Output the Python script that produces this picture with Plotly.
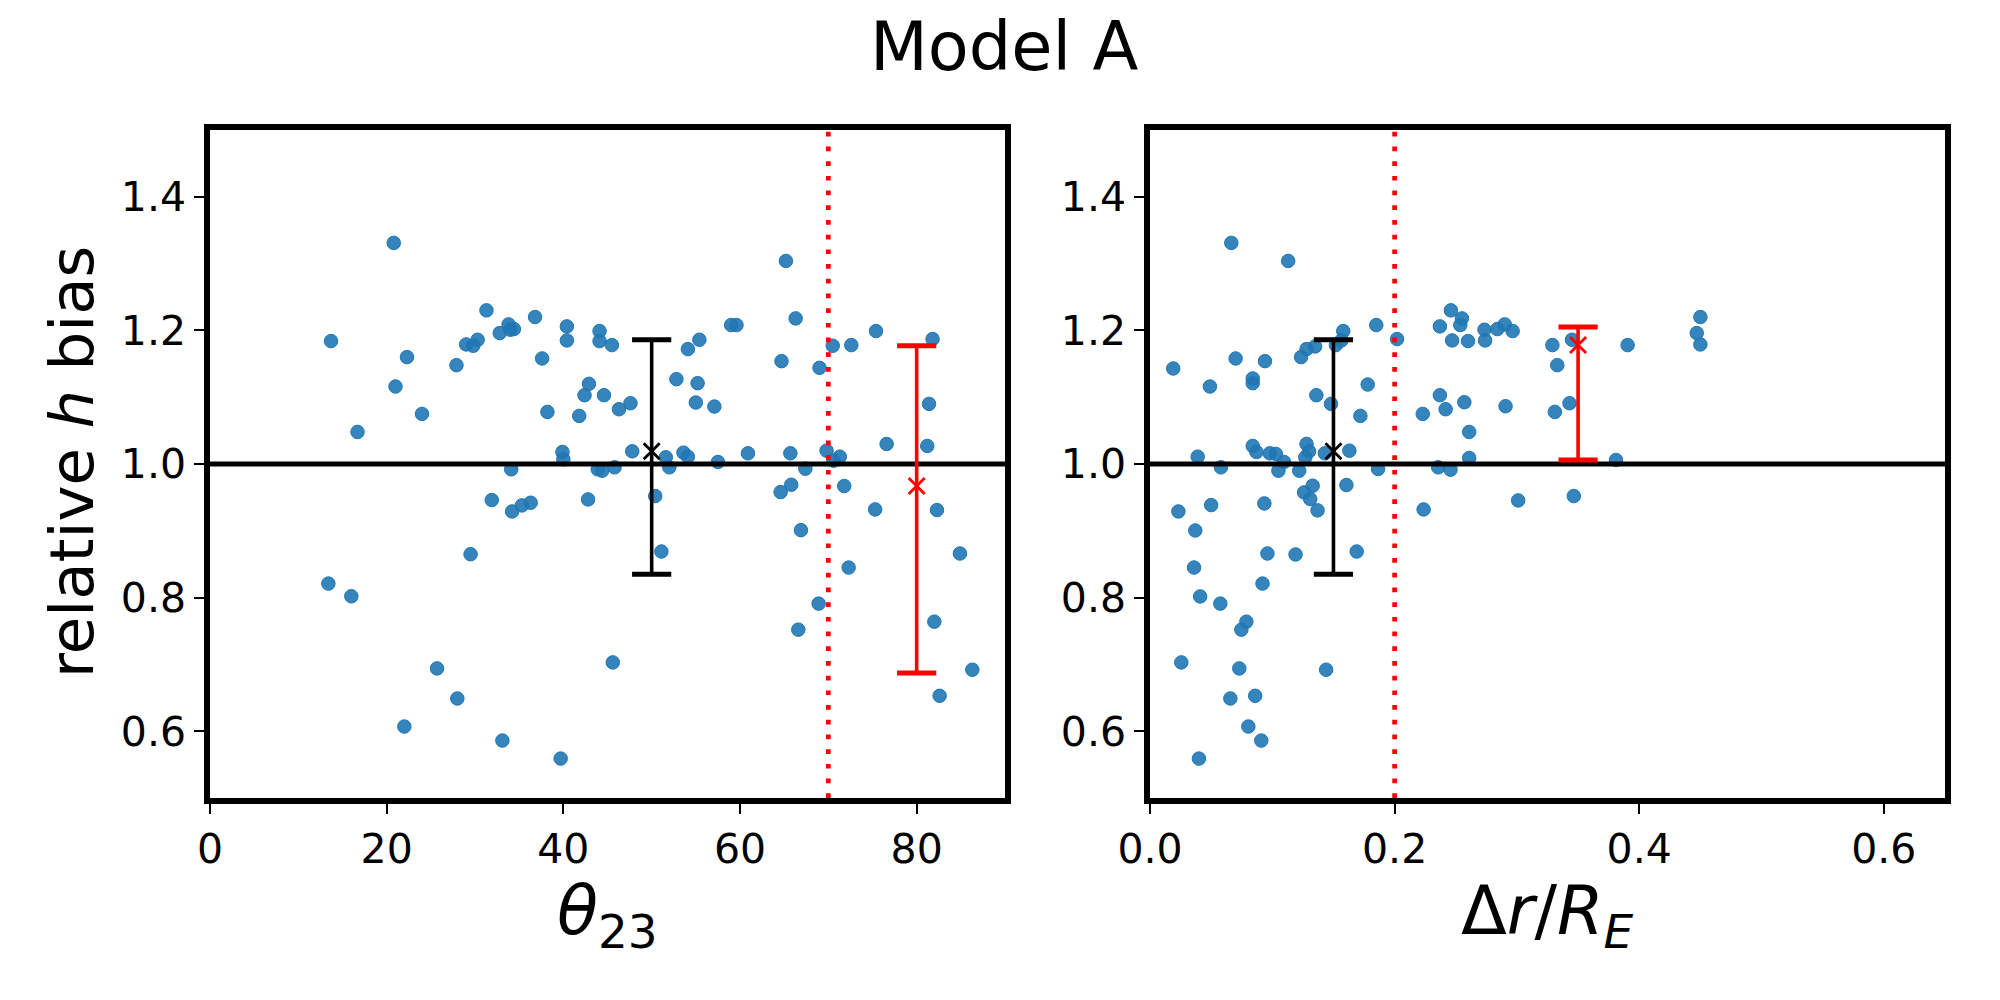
import plotly.graph_objects as go

# ---------------- data ----------------
theta23 = [20.8, 13.7, 22.3, 21.0, 24.0, 16.7, 27.9, 29.0, 29.8, 30.3, 31.3, 32.8, 33.8, 34.0, 34.4,
           36.8, 37.6, 38.2, 40.4, 40.4, 44.1, 44.1, 45.5, 42.9, 42.4, 44.6, 41.8, 46.3, 39.9, 40.0,
           47.6, 47.8, 51.6, 53.6, 54.1, 54.1, 55.4, 52.8, 55.2, 55.0, 57.1, 57.5, 59.0, 59.6, 60.9,
           65.2, 66.3, 64.7, 69.0, 65.7, 69.8, 70.5, 72.6, 75.4, 71.3, 70.6, 76.6, 81.8, 81.4, 81.2,
           34.1, 43.9, 44.4, 45.8, 31.9, 34.2, 35.3, 36.3, 42.8, 29.5, 13.4, 16.0, 45.6, 25.7, 28.0,
           22.0, 33.1, 39.7, 52.0, 50.4, 51.1, 67.4, 65.8, 64.6, 71.8, 66.9, 72.3, 68.9, 66.6, 75.3,
           82.3, 84.9, 82.0, 86.3, 82.6]
bias_theta = [1.331, 1.184, 1.160, 1.116, 1.075, 1.048, 1.148, 1.179, 1.177, 1.186, 1.230, 1.196, 1.209, 1.201, 1.202,
              1.220, 1.158, 1.078, 1.206, 1.185, 1.199, 1.184, 1.178, 1.120, 1.103, 1.103, 1.072, 1.082, 1.018, 1.007,
              1.091, 1.019, 1.010, 1.017, 1.011, 1.172, 1.186, 1.127, 1.121, 1.092, 1.086, 1.003, 1.208, 1.208, 1.016,
              1.304, 1.218, 1.154, 1.144, 1.016, 1.020, 1.177, 1.178, 1.199, 1.011, 1.005, 1.030, 1.187, 1.090, 1.027,
              0.992, 0.992, 0.990, 0.995, 0.946, 0.929, 0.938, 0.942, 0.947, 0.865, 0.821, 0.802, 0.703, 0.694, 0.649,
              0.607, 0.586, 0.559, 0.995, 0.952, 0.869, 0.993, 0.969, 0.958, 0.967, 0.901, 0.845, 0.791, 0.752, 0.932,
              0.931, 0.866, 0.764, 0.692, 0.653]

dr_re = [0.0665, 0.113, 0.019, 0.070, 0.094, 0.049, 0.084, 0.084, 0.1235, 0.128, 0.135, 0.152, 0.1565, 0.158, 0.185,
         0.202, 0.136, 0.148, 0.178, 0.172, 0.039, 0.084, 0.087, 0.098, 0.103, 0.1096, 0.128, 0.130, 0.127, 0.143,
         0.163, 0.237, 0.246, 0.255, 0.2537, 0.247, 0.260, 0.2735, 0.274, 0.284, 0.290, 0.2965, 0.329, 0.333, 0.237,
         0.2417, 0.257, 0.223, 0.2907, 0.331, 0.261, 0.261, 0.345, 0.343, 0.3905, 0.450, 0.447, 0.450, 0.381, 0.3465,
         0.058, 0.105, 0.122, 0.1865, 0.2356, 0.2457, 0.133, 0.126, 0.131, 0.137, 0.1606, 0.0232, 0.050, 0.0935, 0.037,
         0.096, 0.119, 0.169, 0.2237, 0.301, 0.036, 0.092, 0.041, 0.0575, 0.0788, 0.0747, 0.0256, 0.073, 0.144, 0.0657,
         0.086, 0.0804, 0.091, 0.040]
bias_dr = [1.331, 1.304, 1.143, 1.158, 1.154, 1.116, 1.128, 1.121, 1.160, 1.172, 1.176, 1.178, 1.185, 1.199, 1.208,
           1.187, 1.103, 1.090, 1.119, 1.072, 1.011, 1.027, 1.018, 1.016, 1.015, 1.003, 1.030, 1.019, 1.010, 1.016,
           1.020, 1.206, 1.230, 1.218, 1.208, 1.185, 1.184, 1.201, 1.185, 1.202, 1.209, 1.199, 1.178, 1.148, 1.103,
           1.082, 1.0925, 1.075, 1.0865, 1.078, 1.048, 1.009, 1.186, 1.091, 1.178, 1.220, 1.196, 1.179, 1.006, 0.952,
           0.995, 0.990, 0.990, 0.9925, 0.995, 0.9915, 0.9675, 0.9575, 0.9475, 0.9306, 0.9685, 0.929, 0.9385, 0.941, 0.9005,
           0.866, 0.8646, 0.869, 0.932, 0.9455, 0.845, 0.821, 0.8017, 0.791, 0.764, 0.752, 0.703, 0.694, 0.692, 0.649,
           0.653, 0.607, 0.586, 0.559]

# summary statistics (x position, mean, upper, lower)
all_theta_x, all_dr_x = 50.0, 0.15
all_mean, all_upper, all_lower = 1.019, 1.186, 0.835
cut_theta_x, cut_theta_mean, cut_theta_upper, cut_theta_lower = 80.0, 0.967, 1.177, 0.687
cut_dr_x, cut_dr_mean, cut_dr_upper, cut_dr_lower = 0.35, 1.178, 1.205, 1.006

theta_cut = 70
dr_cut = 0.2
x1_range = [0, 90]
x2_range = [0, 0.65]
y_range = [0.5, 1.5]
x1_ticks = [0, 20, 40, 60, 80]
x2_ticks = [0.0, 0.2, 0.4, 0.6]
y_ticks = [0.6, 0.8, 1.0, 1.2, 1.4]

BLUE = "rgba(31,119,180,0.9)"
FONT = "DejaVu Sans"

fig = go.Figure()


def add_panel(xs, ys, xa, ya, cut, xrange_, summaries):
    fig.add_trace(go.Scatter(
        x=xs, y=ys, mode="markers", xaxis=xa, yaxis=ya,
        marker=dict(size=13.5, color=BLUE, line=dict(width=1, color="rgba(31,119,180,1)")),
        showlegend=False, hoverinfo="skip"))
    # reference line y = 1
    fig.add_trace(go.Scatter(
        x=xrange_, y=[1.0, 1.0], mode="lines", xaxis=xa, yaxis=ya,
        line=dict(color="black", width=5), showlegend=False, hoverinfo="skip"))
    # cut line
    fig.add_trace(go.Scatter(
        x=[cut, cut], y=y_range, mode="lines", xaxis=xa, yaxis=ya,
        line=dict(color="red", width=4.7, dash="4.7px,10px"), showlegend=False, hoverinfo="skip"))
    for (x, m, up, lo, col) in summaries:
        fig.add_trace(go.Scatter(
            x=[x, x], y=[lo, up], mode="lines", xaxis=xa, yaxis=ya,
            line=dict(color=col, width=3.6), showlegend=False, hoverinfo="skip"))
        fig.add_trace(go.Scatter(
            x=[x, x], y=[lo, up], mode="markers", xaxis=xa, yaxis=ya,
            marker=dict(symbol="line-ew", size=28, line=dict(color=col, width=5)),
            showlegend=False, hoverinfo="skip"))
        fig.add_trace(go.Scatter(
            x=[x], y=[m], mode="markers", xaxis=xa, yaxis=ya,
            marker=dict(symbol="x-thin", size=16, line=dict(color=col, width=2.8)),
            showlegend=False, hoverinfo="skip"))


add_panel(theta23, bias_theta, "x", "y", theta_cut, x1_range,
          [(all_theta_x, all_mean, all_upper, all_lower, "black"),
           (cut_theta_x, cut_theta_mean, cut_theta_upper, cut_theta_lower, "red")])
add_panel(dr_re, bias_dr, "x2", "y2", dr_cut, x2_range,
          [(all_dr_x, all_mean, all_upper, all_lower, "black"),
           (cut_dr_x, cut_dr_mean, cut_dr_upper, cut_dr_lower, "red")])

axis_common = dict(showline=True, linewidth=5.5, linecolor="black", mirror=True,
                   ticks="outside", ticklen=10, tickwidth=2, tickcolor="black",
                   showgrid=False, zeroline=False, automargin=False,
                   tickfont=dict(family=FONT, size=41, color="black"))

fig.update_layout(
    template="none",
    width=2000, height=1000,
    margin=dict(l=0, r=0, t=0, b=0, autoexpand=False),
    paper_bgcolor="white", plot_bgcolor="white",
    font=dict(family=FONT, color="black"),
    xaxis=dict(domain=[0.105, 0.5025], range=x1_range, tickvals=x1_ticks,
               ticktext=[str(v) for v in x1_ticks], anchor="y", **axis_common),
    yaxis=dict(domain=[0.202, 0.87], range=y_range, tickvals=y_ticks,
               ticktext=[f"{v:.1f}" for v in y_ticks], anchor="x", **axis_common),
    xaxis2=dict(domain=[0.575, 0.9725], range=x2_range, tickvals=x2_ticks,
                ticktext=[f"{v:.1f}" for v in x2_ticks], anchor="y2", **axis_common),
    yaxis2=dict(domain=[0.202, 0.87], range=y_range, tickvals=y_ticks,
                ticktext=[f"{v:.1f}" for v in y_ticks], anchor="x2", **axis_common),
    annotations=[
        dict(text="Model A", x=1004 / 2000, y=1 - 47 / 1000, xref="paper", yref="paper",
             showarrow=False, xanchor="center", yanchor="middle",
             font=dict(family=FONT, size=67, color="black")),
        dict(text="relative <i>h</i> bias", x=72 / 2000, y=1 - 462 / 1000, xref="paper", yref="paper",
             showarrow=False, xanchor="center", yanchor="middle", textangle=-90,
             font=dict(family=FONT, size=61, color="black")),
        dict(text="<i>θ</i><sub>23</sub>", x=607.5 / 2000, y=1 - 915 / 1000, xref="paper", yref="paper",
             showarrow=False, xanchor="center", yanchor="middle",
             font=dict(family=FONT, size=67, color="black")),
        dict(text="Δ<i>r</i>/<i>R</i><sub><i>E</i></sub>", x=1547.5 / 2000, y=1 - 915 / 1000,
             xref="paper", yref="paper",
             showarrow=False, xanchor="center", yanchor="middle",
             font=dict(family=FONT, size=67, color="black")),
    ],
)

fig.write_html("out.html")
